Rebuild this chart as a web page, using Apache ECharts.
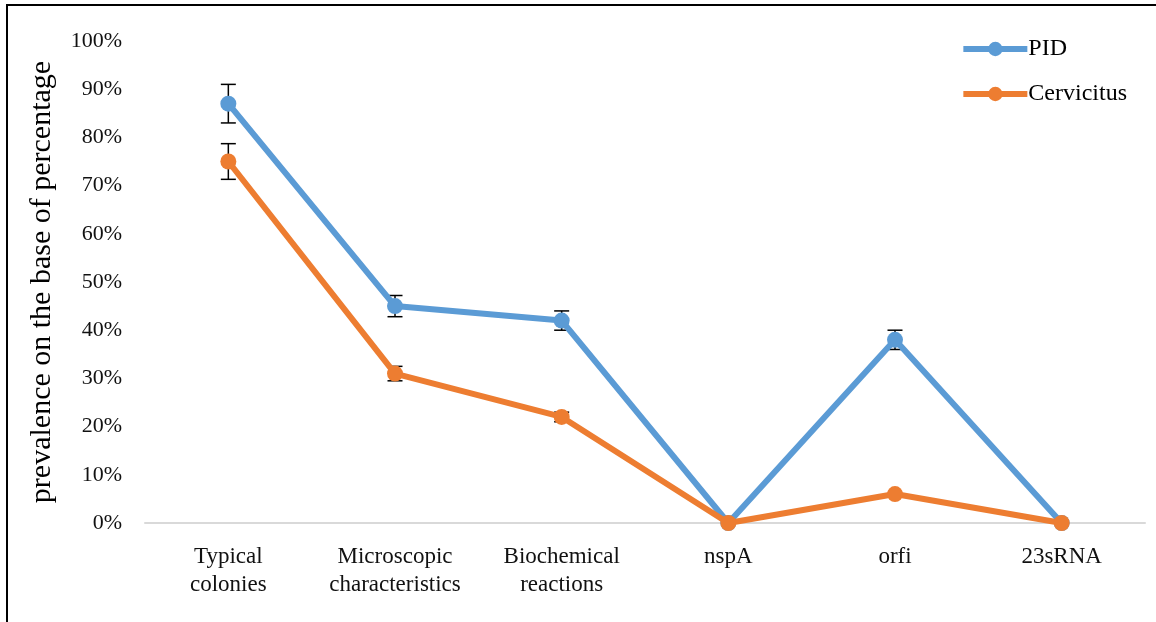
<!DOCTYPE html>
<html>
<head>
<meta charset="utf-8">
<script src="https://cdn.jsdelivr.net/npm/echarts@6/dist/echarts.min.js"></script>
<style>
  html, body { margin: 0; padding: 0; background: #fff; }
  #chart { width: 1156px; height: 622px; position: absolute; left: 0; top: 0; }
  #frame { position: absolute; left: 6px; top: 4px; width: 1150px; height: 618px;
           border-top: 2px solid #000; border-left: 2px solid #000; pointer-events: none; }
</style>
</head>
<body>
<div id="chart"></div>
<div id="frame"></div>
<script>
// Detection methods along the x axis
const categories = ['Typical\ncolonies', 'Microscopic\ncharacteristics', 'Biochemical\nreactions', 'nspA', 'orfi', '23sRNA'];
// Prevalence (%) per group
const pidValues = [87, 45, 42, 0, 38, 0];
const cervicitusValues = [75, 31, 22, 0, 6, 0];
// Error bar half-widths (%)
const pidErrors = [4, 2.2, 2, 0, 2, 0];
const cervicitusErrors = [3.7, 1.5, 1, 0, 0, 0];
// Y axis ticks
const yTicks = { min: 0, max: 100, interval: 10 };

const BLUE = '#5B9BD5';
const ORANGE = '#ED7D31';
const FONT = 'Liberation Serif';

function errorSeries(values, errors) {
  const data = values.map((v, i) => [i, v - errors[i], v + errors[i]]);
  return {
    type: 'custom',
    z: 1,
    silent: true,
    data: data,
    renderItem: function (params, api) {
      const i = api.value(0);
      const lo = api.coord([i, api.value(1)]);
      const hi = api.coord([i, api.value(2)]);
      if (Math.abs(lo[1] - hi[1]) < 0.5) return null;
      const w = 7.5;
      const style = { stroke: '#000', lineWidth: 1.5 };
      return {
        type: 'group',
        children: [
          { type: 'line', shape: { x1: lo[0], y1: lo[1], x2: hi[0], y2: hi[1] }, style: style },
          { type: 'line', shape: { x1: lo[0] - w, y1: lo[1], x2: lo[0] + w, y2: lo[1] }, style: style },
          { type: 'line', shape: { x1: hi[0] - w, y1: hi[1], x2: hi[0] + w, y2: hi[1] }, style: style }
        ]
      };
    }
  };
}

const chart = echarts.init(document.getElementById('chart'));
chart.setOption({
  animation: false,
  backgroundColor: '#fff',
  textStyle: { fontFamily: FONT, color: '#000' },
  grid: { left: 145, right: 11, top: 41, bottom: 99, containLabel: false },
  legend: {
    orient: 'vertical',
    right: 24,
    top: 32,
    itemWidth: 64,
    itemHeight: 18,
    itemGap: 21,
    data: ['PID', 'Cervicitus'],
    lineStyle: { width: 6 },
    textStyle: { fontFamily: FONT, fontSize: 24, color: '#000', padding: [0, 0, 0, -4] }
  },
  xAxis: {
    type: 'category',
    data: categories,
    boundaryGap: true,
    axisLine: { lineStyle: { color: '#d9d9d9', width: 2 } },
    axisTick: { show: false },
    axisLabel: { fontFamily: FONT, fontSize: 23, color: '#111', lineHeight: 28, margin: 20, interval: 0 }
  },
  yAxis: {
    type: 'value',
    min: yTicks.min,
    max: yTicks.max,
    interval: yTicks.interval,
    name: 'prevalence on the base of percentage',
    nameLocation: 'middle',
    nameRotate: 90,
    nameGap: 88,
    nameTextStyle: { fontFamily: FONT, fontSize: 30, color: '#000' },
    axisLine: { show: false },
    axisTick: { show: false },
    splitLine: { show: false },
    axisLabel: { fontFamily: FONT, fontSize: 22, color: '#111', margin: 23, formatter: '{value}%' }
  },
  series: [
    errorSeries(pidValues, pidErrors),
    errorSeries(cervicitusValues, cervicitusErrors),
    {
      name: 'PID',
      type: 'line',
      z: 3,
      data: pidValues,
      symbol: 'circle',
      symbolSize: 16,
      lineStyle: { color: BLUE, width: 6 },
      itemStyle: { color: BLUE }
    },
    {
      name: 'Cervicitus',
      type: 'line',
      z: 4,
      data: cervicitusValues,
      symbol: 'circle',
      symbolSize: 16,
      lineStyle: { color: ORANGE, width: 6 },
      itemStyle: { color: ORANGE }
    }
  ]
});
</script>
</body>
</html>
